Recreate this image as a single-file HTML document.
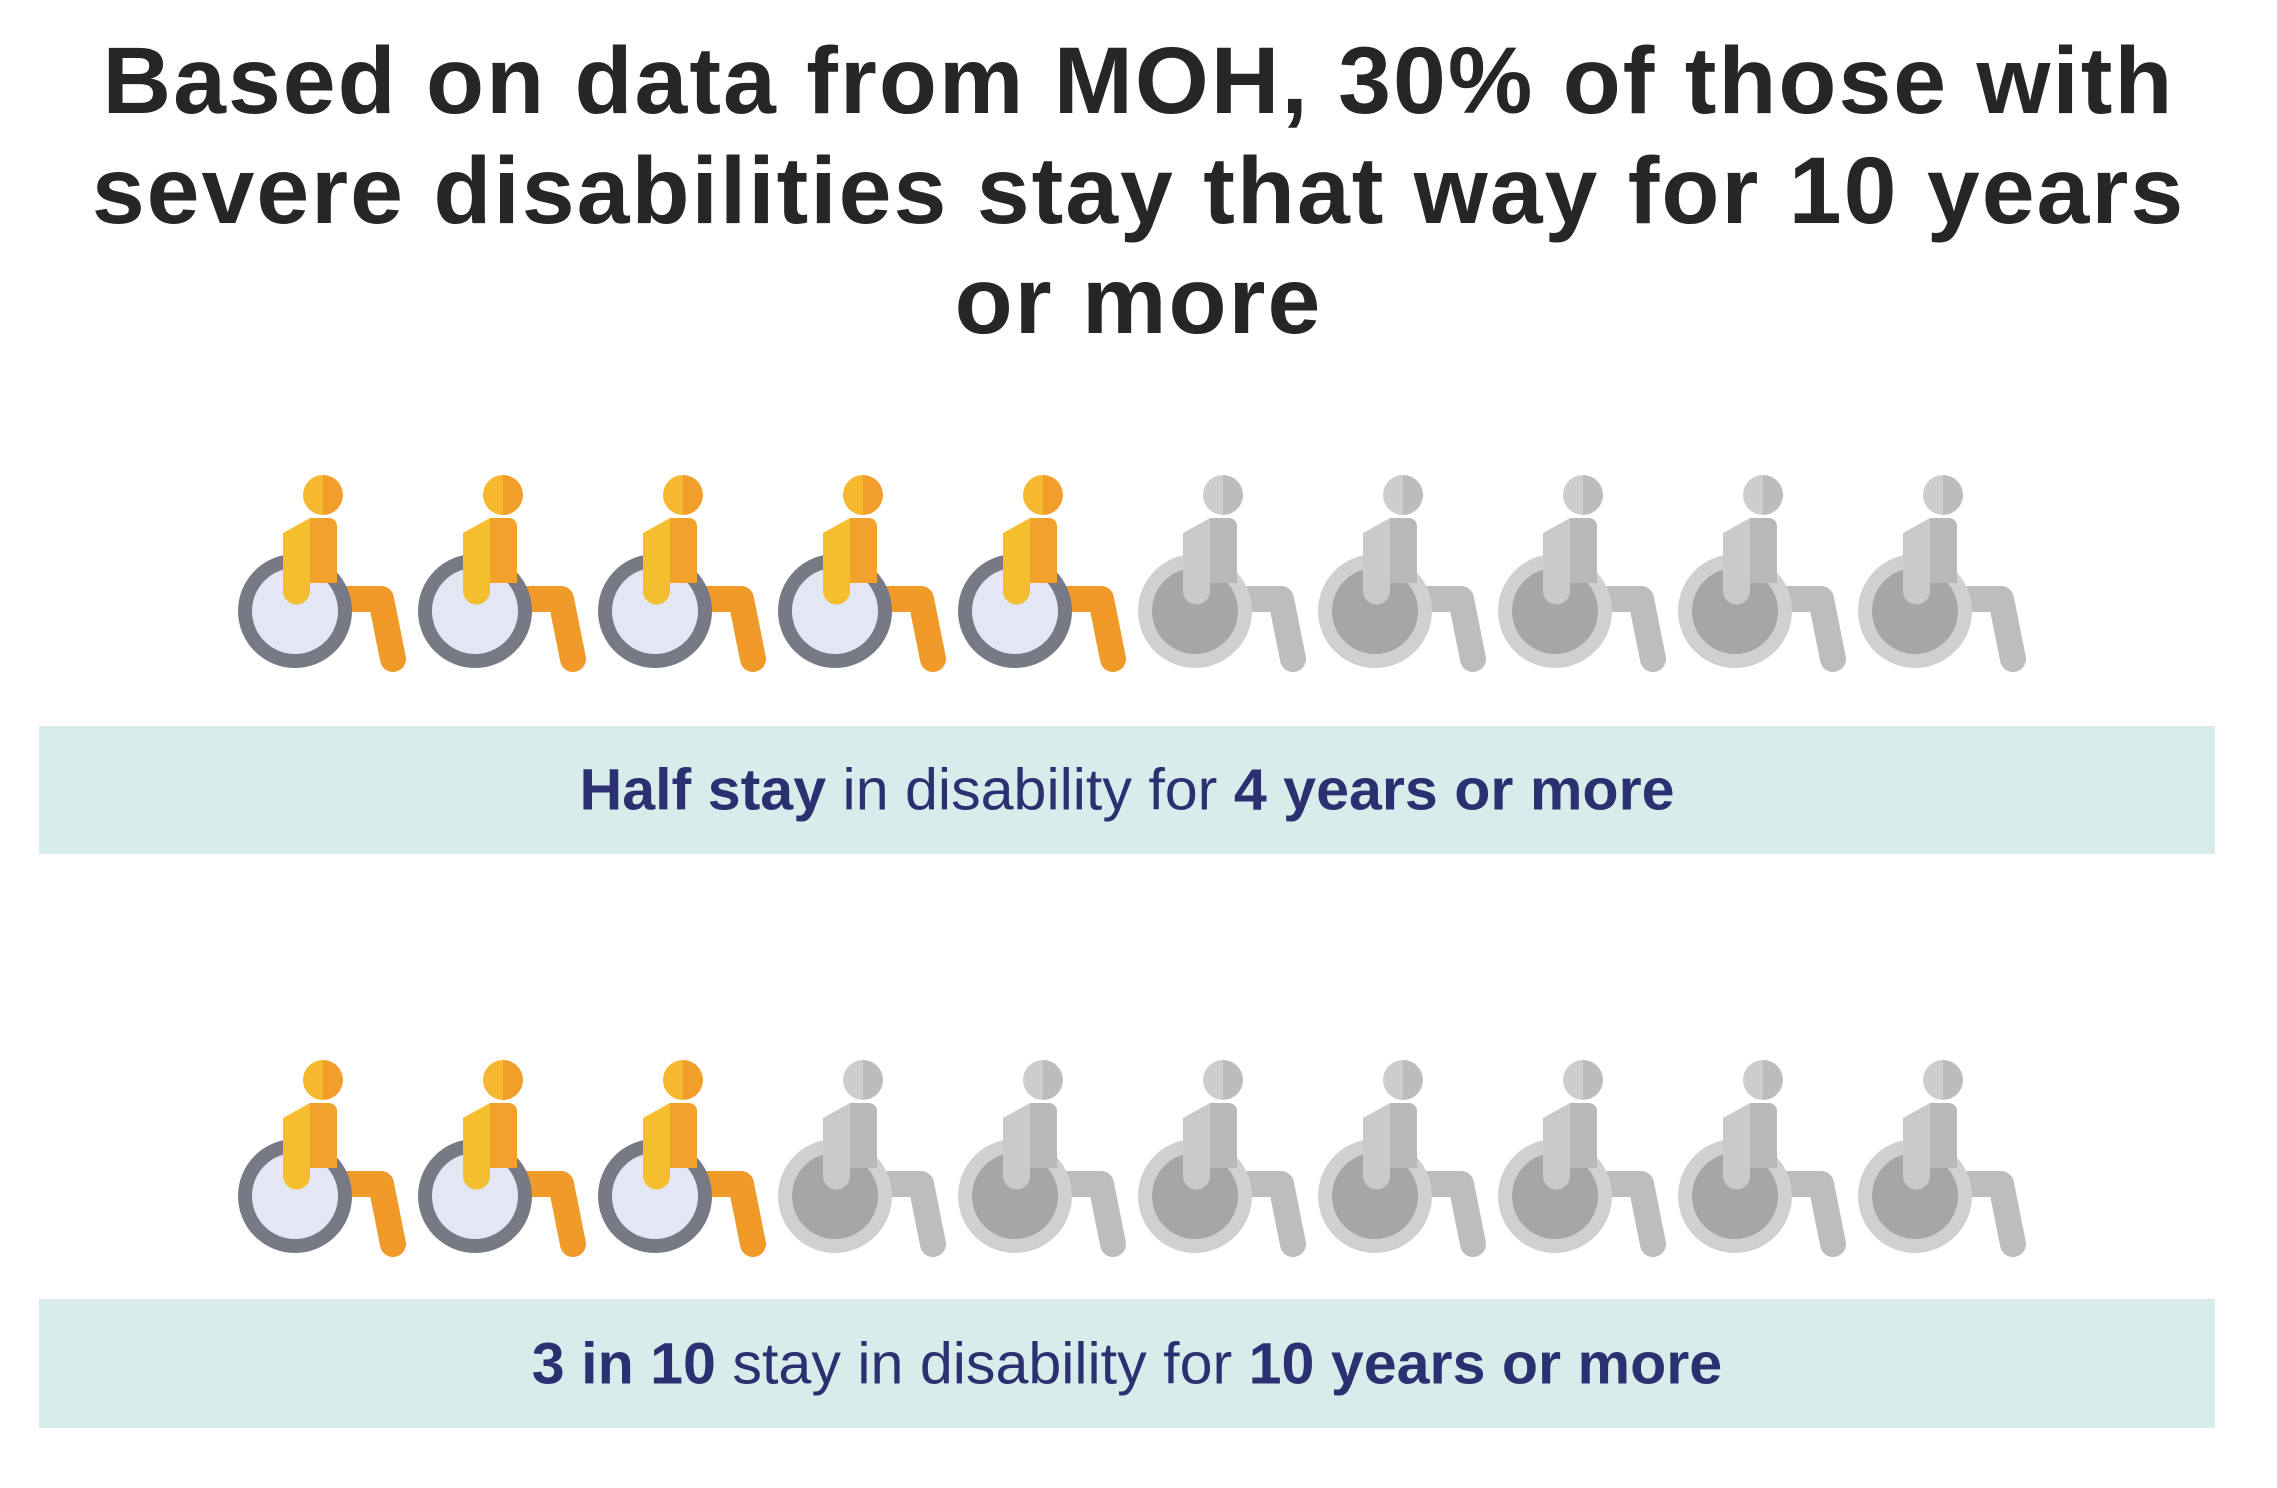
<!DOCTYPE html>
<html><head><meta charset="utf-8"><style>
html,body{margin:0;padding:0;background:#fff;width:2277px;height:1488px;overflow:hidden;position:relative;font-family:"Liberation Sans",sans-serif}
h1{position:absolute;left:0;top:26px;width:2277px;margin:0;text-align:center;font-size:95px;line-height:110px;font-weight:bold;color:#262626;letter-spacing:2px}
.band{position:absolute;left:39px;width:2176px;background:#d9ecec}
.band span{position:absolute;left:50%;top:50%;white-space:nowrap;transform:translate(-50%,-50%) scaleX(1.02);font-size:58px;color:#2a3070}
b{font-weight:bold}
</style></head><body>
<h1>Based on data from MOH, 30% of those with<br>severe disabilities stay that way for 10 years<br>or more</h1>
<svg width="2277" height="1488" style="position:absolute;left:0;top:0">
<defs>
<g id="o">
<polyline points="52,-12 86,-12 98,48" fill="none" stroke="#f09a2a" stroke-width="26" stroke-linecap="round" stroke-linejoin="round"/>
<circle r="50" fill="#e3e7f5" stroke="#777a84" stroke-width="14"/>
<path d="M-12,-78 L15,-93 L15,-20 A13.5,13.5 0 0 1 -12,-20 Z" fill="#f4be2f"/>
<path d="M15,-93 L34,-93 A8,8 0 0 1 42,-85 L42,-28 L15,-28 Z" fill="#f2a12b"/>
<path d="M28,-136 A20,20 0 0 0 28,-96 Z" fill="#f6b82f"/>
<path d="M28,-136 A20,20 0 0 1 28,-96 Z" fill="#f29e2b"/>
</g>
<g id="g">
<polyline points="52,-12 86,-12 98,48" fill="none" stroke="#bdbdc0" stroke-width="26" stroke-linecap="round" stroke-linejoin="round"/>
<circle r="50" fill="#a6a6a9" stroke="#d0d0d3" stroke-width="14"/>
<path d="M-12,-78 L15,-93 L15,-20 A13.5,13.5 0 0 1 -12,-20 Z" fill="#cacacd"/>
<path d="M15,-93 L34,-93 A8,8 0 0 1 42,-85 L42,-28 L15,-28 Z" fill="#b8b8bb"/>
<path d="M28,-136 A20,20 0 0 0 28,-96 Z" fill="#cdcdd0"/>
<path d="M28,-136 A20,20 0 0 1 28,-96 Z" fill="#bcbcbf"/>
</g>
</defs>
<use href="#o" x="295" y="611"/><use href="#o" x="475" y="611"/><use href="#o" x="655" y="611"/><use href="#o" x="835" y="611"/><use href="#o" x="1015" y="611"/>
<use href="#g" x="1195" y="611"/><use href="#g" x="1375" y="611"/><use href="#g" x="1555" y="611"/><use href="#g" x="1735" y="611"/><use href="#g" x="1915" y="611"/>
<use href="#o" x="295" y="1196"/><use href="#o" x="475" y="1196"/><use href="#o" x="655" y="1196"/>
<use href="#g" x="835" y="1196"/><use href="#g" x="1015" y="1196"/><use href="#g" x="1195" y="1196"/><use href="#g" x="1375" y="1196"/><use href="#g" x="1555" y="1196"/><use href="#g" x="1735" y="1196"/><use href="#g" x="1915" y="1196"/>
</svg>
<div class="band" style="top:726px;height:128px"><span><b>Half stay</b> in disability for <b>4 years or more</b></span></div>
<div class="band" style="top:1299px;height:129px"><span><b>3 in 10</b> stay in disability for <b>10 years or more</b></span></div>
</body></html>
